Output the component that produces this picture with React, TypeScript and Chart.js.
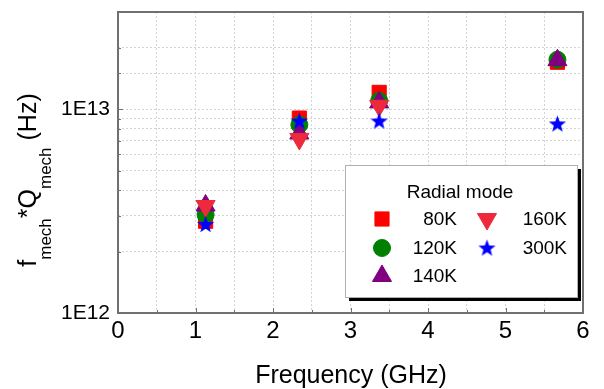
import React, { useEffect, useRef } from 'react';
import { Chart, registerables } from 'chart.js';
import { drawPoint } from 'chart.js/helpers';

Chart.register(...registerables);

// ---- data ----
const seriesNames = ['80K', '120K', '140K', '160K', '300K'];
const freq80 = [1.13, 2.34, 3.37, 5.67];
const q80 = [2.82e12, 9.05e12, 1.21e13, 1.7e13];
const freq120 = [1.13, 2.34, 3.37, 5.67];
const q120 = [3.04e12, 8.4e12, 1.1e13, 1.75e13];
const freq140 = [1.13, 2.34, 3.37, 5.67];
const q140 = [3.37e12, 7.6e12, 1.08e13, 1.74e13];
const freq160 = [1.13, 2.34, 3.37];
const q160 = [3.35e12, 7.15e12, 1.04e13];
const freq300 = [1.13, 2.34, 3.37, 5.67];
const q300 = [2.72e12, 8.75e12, 8.75e12, 8.47e12];
const xTickLabels = ['0', '1', '2', '3', '4', '5', '6'];
const yTickLabels: Record<string, string> = { '1000000000000': '1E12', '10000000000000': '1E13' };

const FONT = "'Liberation Sans', Arial, sans-serif";

function makeStar(color: string, size: number) {
  const c = document.createElement('canvas');
  c.width = size;
  c.height = size;
  const g = c.getContext('2d')!;
  const cx = size / 2, cy = size / 2 + 0.5;
  const ro = size / 2 - 0.5, ri = ro * 0.42;
  g.beginPath();
  for (let i = 0; i < 10; i++) {
    const r = i % 2 === 0 ? ro : ri;
    const a = -Math.PI / 2 + (i * Math.PI) / 5;
    const px = cx + r * Math.cos(a), py = cy + r * Math.sin(a);
    if (i === 0) g.moveTo(px, py); else g.lineTo(px, py);
  }
  g.closePath();
  g.fillStyle = color;
  g.fill();
  return c;
}

function pts(xs: number[], ys: number[]) {
  return xs.map((x, i) => ({ x, y: ys[i] }));
}

export default function App() {
  const ref = useRef<HTMLCanvasElement>(null);
  useEffect(() => {
    const star = makeStar('#0000ff', 19);
    const overlay = {
      id: 'overlay',
      afterDraw(chart: any) {
        const ctx = chart.ctx as CanvasRenderingContext2D;
        const { left, right, top, bottom } = chart.chartArea;
        const xs = chart.scales.x, ys = chart.scales.y;
        ctx.save();
        // inner ticks
        ctx.strokeStyle = '#707070';
        ctx.lineWidth = 1;
        ctx.beginPath();
        xs.ticks.forEach((t: any) => {
          const px = Math.round(xs.getPixelForValue(t.value)) + 0.5;
          const major = Math.abs(t.value - Math.round(t.value)) < 1e-9;
          ctx.moveTo(px, bottom);
          ctx.lineTo(px, bottom - (major ? 5 : 3));
        });
        ys.ticks.forEach((t: any) => {
          const py = Math.round(ys.getPixelForValue(t.value)) + 0.5;
          const lg = Math.log10(t.value);
          const major = Math.abs(lg - Math.round(lg)) < 1e-9;
          ctx.moveTo(left, py);
          ctx.lineTo(left + (major ? 5 : 3), py);
        });
        ctx.stroke();
        // frame
        ctx.lineWidth = 2;
        ctx.strokeStyle = '#707070';
        ctx.strokeRect(left, top, right - left, bottom - top);

        // legend
        const bx = 345, by = 165, bw = 232, bh = 132;
        ctx.fillStyle = '#000';
        ctx.fillRect(bx + 4, by + 4, bw, bh);
        ctx.fillStyle = '#fff';
        ctx.fillRect(bx, by, bw, bh);
        ctx.strokeStyle = '#b0b0b0';
        ctx.lineWidth = 1;
        ctx.strokeRect(bx + 0.5, by + 0.5, bw, bh);
        ctx.fillStyle = '#000';
        ctx.font = `19px ${FONT}`;
        ctx.textAlign = 'center';
        ctx.textBaseline = 'middle';
        ctx.fillText('Radial mode', 460, 193);
        const rowsY = [219, 248, 276];
        chart.data.datasets.forEach((ds: any, i: number) => {
          const col = i < 3 ? 0 : 1;
          const row = i < 3 ? i : i - 3;
          const mx = col === 0 ? 382 : 487;
          const lx = col === 0 ? 457 : 567;
          const y = rowsY[row];
          ctx.fillStyle = ds.backgroundColor;
          ctx.strokeStyle = ds.borderColor;
          drawPoint(ctx, {
            pointStyle: ds.pointStyle,
            radius: ds.pointRadius,
            rotation: ds.pointRotation || 0,
            borderWidth: ds.pointBorderWidth ?? 1,
          } as any, mx, y);
          ctx.fillStyle = '#000';
          ctx.font = `19px ${FONT}`;
          ctx.textAlign = 'right';
          ctx.textBaseline = 'middle';
          ctx.fillText(ds.label, lx, y + 1);
        });

        // x title
        ctx.fillStyle = '#000';
        ctx.font = `25px ${FONT}`;
        ctx.textAlign = 'center';
        ctx.textBaseline = 'alphabetic';
        ctx.fillText('Frequency (GHz)', 351, 383);

        // y title with subscripts
        const segs: [string, number, number][] = [
          ['f', 25, 0], ['mech', 17, 15], ['*', 25, 0], ['Q', 25, 0], ['mech', 17, 15], [' (Hz)', 25, 0],
        ];
        let total = 0;
        const widths = segs.map(([s, f]) => {
          ctx.font = `${f}px ${FONT}`;
          const w = ctx.measureText(s).width;
          total += w;
          return w;
        });
        ctx.translate(36, 180);
        ctx.rotate(-Math.PI / 2);
        ctx.textAlign = 'left';
        let cx = -total / 2;
        segs.forEach(([s, f, dy], i) => {
          ctx.font = `${f}px ${FONT}`;
          ctx.fillText(s, cx, dy);
          cx += widths[i];
        });
        ctx.restore();
      },
    };

    const base = { showLine: false, pointBorderWidth: 1 };
    const chart = new Chart(ref.current!, {
      type: 'scatter',
      data: {
        datasets: [
          { ...base, label: seriesNames[0], data: pts(freq80, q80), pointStyle: 'rect', pointRadius: 10, backgroundColor: '#ff0000', borderColor: '#ff0000', order: 5 },
          { ...base, label: seriesNames[1], data: pts(freq120, q120), pointStyle: 'circle', pointRadius: 8.5, backgroundColor: '#008000', borderColor: '#008000', order: 4 },
          { ...base, label: seriesNames[2], data: pts(freq140, q140), pointStyle: 'triangle', pointRadius: 11, backgroundColor: '#800080', borderColor: '#800080', order: 3 },
          { ...base, label: seriesNames[3], data: pts(freq160, q160), pointStyle: 'triangle', pointRotation: 180, pointRadius: 11, backgroundColor: '#ec2a3c', borderColor: '#ec2a3c', order: 2 },
          { ...base, label: seriesNames[4], data: pts(freq300, q300), pointStyle: star, pointRadius: 9.5, backgroundColor: '#0000ff', borderColor: '#0000ff', pointBorderWidth: 0, order: 1 },
        ] as any,
      },
      options: {
        animation: false,
        responsive: false,
        events: [],
        layout: { padding: { top: 8, right: 21, left: 0, bottom: 0 } },
        plugins: { legend: { display: false }, tooltip: { enabled: false } },
        scales: {
          x: {
            type: 'linear',
            min: 0,
            max: 6,
            afterFit: (s: any) => { s.height = 76; s.paddingLeft = 0; s.paddingRight = 0; },
            ticks: {
              stepSize: 0.5,
              autoSkip: false,
              maxRotation: 0,
              padding: 4,
              color: '#000',
              font: { family: FONT, size: 24 },
              callback: (v: any) => {
                const n = Number(v);
                return Math.abs(n - Math.round(n)) < 1e-9 ? xTickLabels[Math.round(n)] : '';
              },
            },
            grid: { color: '#d4d4d4', lineWidth: 1, drawTicks: false },
            border: { display: false, dash: [2, 2] },
          },
          y: {
            type: 'logarithmic',
            min: 1e12,
            max: 3e13,
            afterFit: (s: any) => { s.width = 118; s.paddingTop = 0; s.paddingBottom = 0; },
            ticks: {
              autoSkip: false,
              padding: 8,
              color: '#000',
              font: { family: FONT, size: 21 },
              callback: (v: any) => yTickLabels[String(Math.round(Number(v)))] || '',
            },
            grid: { color: '#d4d4d4', lineWidth: 1, drawTicks: false },
            border: { display: false, dash: [2, 2] },
          },
        },
      } as any,
      plugins: [overlay],
    });
    return () => chart.destroy();
  }, []);
  return (
    <div style={{ position: 'fixed', left: 0, top: 0, width: 604, height: 389, background: '#fff' }}>
      <canvas ref={ref} width={604} height={389} style={{ display: 'block' }} />
    </div>
  );
}
